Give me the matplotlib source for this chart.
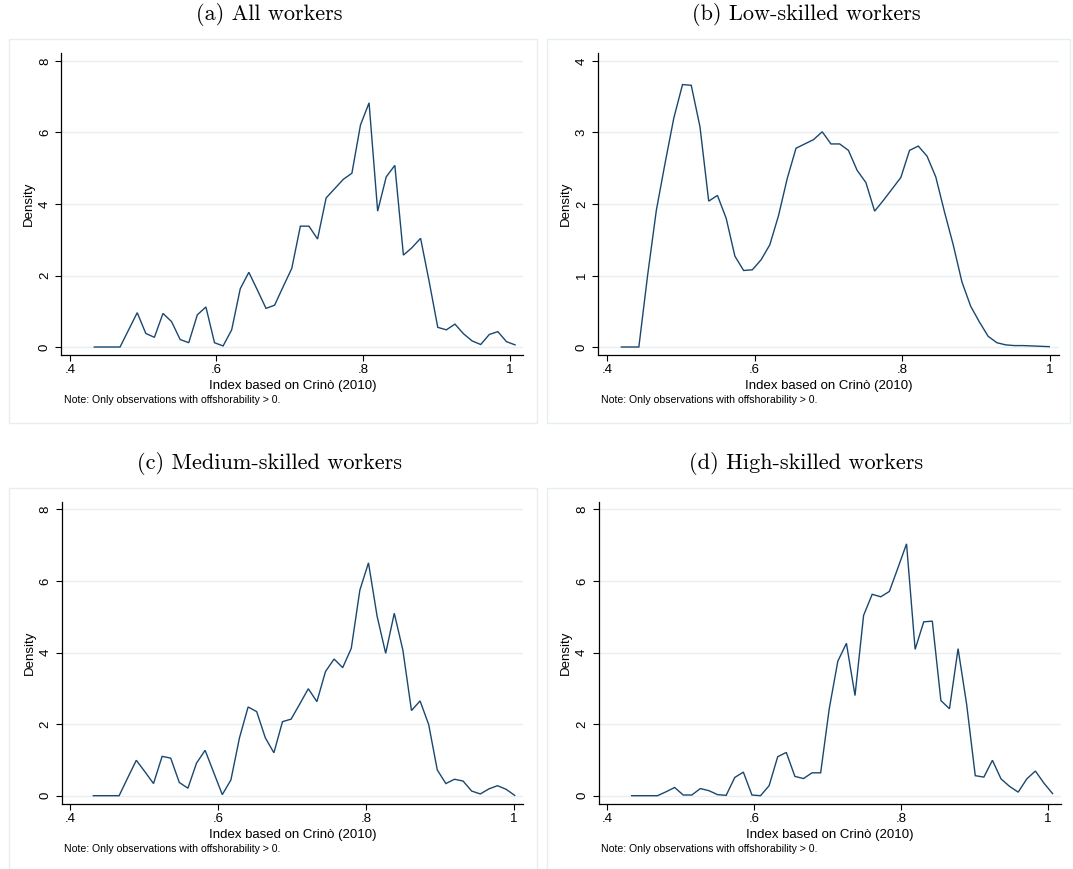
import numpy as np
import matplotlib
matplotlib.use("Agg")
import matplotlib.pyplot as plt
from matplotlib.patches import Rectangle

# Kernel density estimates of the offshorability index (50 evaluation points each)
titles = [
    "(a) All workers",
    "(b) Low-skilled workers",
    "(c) Medium-skilled workers",
    "(d) High-skilled workers",
]

range_all = (0.4333, 1.0074)
dens_all = [
    0.00, 0.00, 0.00, 0.00, 0.48, 0.96, 0.38, 0.27, 0.94, 0.71,
    0.21, 0.12, 0.90, 1.12, 0.12, 0.03, 0.48, 1.63, 2.09, 1.59,
    1.08, 1.17, 1.69, 2.20, 3.38, 3.38, 3.02, 4.17, 4.43, 4.69,
    4.86, 6.21, 6.83, 3.80, 4.76, 5.08, 2.57, 2.78, 3.04, 1.83,
    0.55, 0.48, 0.64, 0.37, 0.17, 0.07, 0.35, 0.43, 0.15, 0.06,
]

range_low = (0.4193, 0.9993)
dens_low = [
    0.00, 0.00, 0.00, 1.00, 1.91, 2.57, 3.20, 3.67, 3.66, 3.08,
    2.04, 2.12, 1.80, 1.27, 1.07, 1.08, 1.22, 1.43, 1.84, 2.36,
    2.78, 2.84, 2.90, 3.01, 2.84, 2.84, 2.75, 2.47, 2.30, 1.90,
    2.05, 2.21, 2.37, 2.75, 2.81, 2.67, 2.38, 1.89, 1.43, 0.91,
    0.57, 0.35, 0.15, 0.06, 0.03, 0.02, 0.02, 0.015, 0.01, 0.005,
]

range_med = (0.4316, 1.0008)
dens_med = [
    0.00, 0.00, 0.00, 0.00, 0.50, 0.99, 0.67, 0.34, 1.10, 1.05,
    0.37, 0.21, 0.91, 1.27, 0.65, 0.03, 0.44, 1.62, 2.48, 2.35,
    1.62, 1.20, 2.07, 2.14, 2.56, 2.99, 2.63, 3.47, 3.82, 3.58,
    4.12, 5.75, 6.51, 5.02, 3.98, 5.10, 4.07, 2.38, 2.65, 1.99,
    0.72, 0.34, 0.46, 0.41, 0.13, 0.05, 0.19, 0.28, 0.18, 0.01,
]

range_high = (0.4332, 1.0065)
dens_high = [
    0.00, 0.00, 0.00, 0.00, 0.11, 0.23, 0.02, 0.02, 0.20, 0.14,
    0.03, 0.01, 0.51, 0.66, 0.02, 0.00, 0.28, 1.09, 1.21, 0.54,
    0.48, 0.64, 0.64, 2.43, 3.76, 4.26, 2.80, 5.04, 5.63, 5.56,
    5.71, 6.37, 7.04, 4.09, 4.86, 4.88, 2.66, 2.43, 4.11, 2.55,
    0.56, 0.52, 0.99, 0.47, 0.26, 0.10, 0.47, 0.69, 0.35, 0.06,
]

ranges = [range_all, range_low, range_med, range_high]
densities = [dens_all, dens_low, dens_med, dens_high]

x_ticks = [0.4, 0.6, 0.8, 1.0]
x_ticklabels = [".4", ".6", ".8", "1"]
y_ticks_wide = [0, 2, 4, 6, 8]
y_ticks_low = [0, 1, 2, 3, 4]

xlabel = "Index based on Crinò (2010)"
ylabel = "Density"
note = "Note: Only observations with offshorability > 0."

W, H = 1073, 869
LINE = "#1a476f"
GRID = "#e9eff1"
FRAME = "#e6eef1"

# plot-region boxes in pixels: left, top, right, bottom
axes_px = [
    (61.3, 52.7, 523.4, 355.3),
    (598.3, 52.7, 1059.0, 355.3),
    (62.0, 501.7, 523.4, 804.3),
    (598.5, 501.7, 1061.0, 804.3),
]
xlims = [(0.3883, 1.0188), (0.388, 1.0125), (0.3893, 1.0126), (0.388, 1.018)]
ylims = [(-0.232, 8.232), (-0.116, 4.116), (-0.24, 8.218), (-0.24, 8.218)]
frames_px = [
    (9.3, 39.3, 537.0, 423.3),
    (546.8, 39.3, 1070.0, 423.3),
    (9.3, 488.0, 537.0, 875.0),
    (546.5, 488.0, 1075.0, 875.0),
]
title_pos = [(269.5, 15.0), (806.0, 15.0), (269.5, 463.3), (806.0, 463.3)]

fig = plt.figure(figsize=(W / 100, H / 100), dpi=100)
fig.patch.set_facecolor("white")

for (l, t, r, b) in frames_px:
    fig.patches.append(Rectangle((l / W, 1 - b / H), (r - l) / W, (b - t) / H,
                                 transform=fig.transFigure, facecolor="white",
                                 edgecolor=FRAME, lw=1.0, zorder=-10))

sans = ["Liberation Sans", "DejaVu Sans"]

for k in range(4):
    l, t, r, b = axes_px[k]
    ax = fig.add_axes([l / W, 1 - b / H, (r - l) / W, (b - t) / H])
    ax.set_zorder(5)
    ax.set_facecolor("none")
    x = np.linspace(ranges[k][0], ranges[k][1], len(densities[k]))
    ax.plot(x, densities[k], color=LINE, lw=1.0, solid_joinstyle="miter", zorder=3)

    ax.set_xlim(*xlims[k])
    ax.set_ylim(*ylims[k])
    ax.set_xticks(x_ticks)
    ax.set_xticklabels(x_ticklabels, fontfamily=sans, fontsize=9.5)
    yt = y_ticks_low if k == 1 else y_ticks_wide
    ax.set_yticks(yt)
    ax.set_yticklabels([str(v) for v in yt], fontfamily=sans, fontsize=9.5,
                       rotation=90, va="center")
    ax.yaxis.grid(True, color=GRID, lw=1.0)
    ax.set_axisbelow(True)
    for s in ("top", "right"):
        ax.spines[s].set_visible(False)
    for s in ("left", "bottom"):
        ax.spines[s].set_linewidth(0.9)
    ax.tick_params(direction="out", length=4.5, width=0.8, colors="black")
    ax.tick_params(axis="x", pad=2)
    ax.tick_params(axis="y", pad=3)
    ax.set_xlabel(xlabel, fontfamily=sans, fontsize=9.5, labelpad=3)
    ax.set_ylabel(ylabel, fontfamily=sans, fontsize=9.5, labelpad=3)

    tx, ty = title_pos[k]
    fig.text(tx / W, 1 - ty / H, titles[k], family="cmr10", fontsize=16,
             ha="center", va="center")
    fig.text((l + 2.4) / W, 1 - (b + 44.8) / H, note, family=sans,
             fontsize=7.6, ha="left", va="center")

fig.savefig("out.png", dpi=100, facecolor="white")
